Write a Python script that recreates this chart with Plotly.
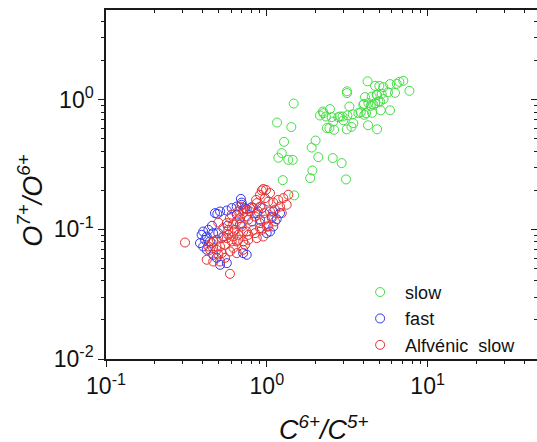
import plotly.graph_objects as go

# ratios (C6+/C5+ , O7+/O6+)
slow_c = [4.23, 4.71, 5.01, 5.30, 5.84, 6.43, 6.67, 7.06, 7.70, 6.27, 5.67, 5.32, 4.85,
          5.18, 5.06, 4.71, 4.94, 5.84, 5.11, 4.51, 4.08, 3.98, 4.28, 4.43, 3.84, 4.14,
          3.15, 3.15, 3.26, 3.42, 3.17, 3.45, 3.36, 3.14, 2.99, 2.96, 2.78, 2.62, 2.59,
          2.53, 2.47, 2.33, 2.25, 2.14, 2.36, 4.26, 4.85, 1.47, 1.157, 1.42, 2.01, 1.90,
          1.28, 1.238, 1.179, 1.36, 1.45, 2.09, 2.57, 2.92, 1.92, 1.86, 3.11, 1.256, 1.48,
          2.85, 4.49, 2.23, 4.02, 3.71, 4.04, 2.45, 4.82, 4.60]
slow_o = [1.389, 1.282, 1.28, 1.253, 1.322, 1.329, 1.377, 1.401, 1.173, 1.132, 1.142, 1.012,
          1.087, 1.112, 0.970, 0.943, 0.970, 0.830, 0.830, 0.794, 1.049, 0.915, 0.943, 0.899,
          0.801, 0.789, 1.163, 1.126, 0.888, 0.773, 0.759, 0.661, 0.619, 0.592, 0.695, 0.743,
          0.735, 0.587, 0.680, 0.735, 0.848, 0.743, 0.789, 0.757, 0.605, 0.636, 0.592, 0.936,
          0.668, 0.616, 0.485, 0.428, 0.474, 0.388, 0.357, 0.344, 0.344, 0.361, 0.355, 0.325,
          0.285, 0.249, 0.243, 0.240, 0.183, 0.743, 1.06, 0.812, 0.931, 0.789, 0.766, 0.605,
          1.093, 0.915]

fast_c = [0.476, 0.512, 0.564, 0.605, 0.650, 0.698, 0.750, 0.806, 0.866, 0.930, 1.073, 1.152,
          1.208, 1.097, 1.097, 1.047, 0.998, 0.402, 0.393, 0.413, 0.384, 0.402, 0.443, 0.423,
          0.536, 0.499, 0.423, 0.492, 0.698, 0.732, 0.713, 0.750, 0.512, 0.564, 0.464, 0.69,
          0.464, 0.488, 0.650, 0.81, 0.907, 0.681, 0.57, 0.456, 0.433]
fast_o = [0.1335, 0.1374, 0.1398, 0.146, 0.150, 0.161, 0.1434, 0.1486, 0.1335, 0.146, 0.1257,
          0.1201, 0.1335, 0.1374, 0.1053, 0.0963, 0.0936, 0.0963, 0.0908, 0.0831, 0.0784,
          0.0738, 0.0807, 0.0881, 0.0881, 0.0936, 0.0696, 0.1319, 0.155, 0.146, 0.0656,
          0.0637, 0.0533, 0.0549, 0.0936, 0.172, 0.0637, 0.0604, 0.130, 0.115, 0.119, 0.109,
          0.107, 0.1066, 0.0993]

alf_c = [0.310, 0.590, 0.423, 0.464, 0.512, 0.443, 0.488, 0.525, 0.464, 0.499, 0.525, 0.576,
         0.618, 0.550, 0.605, 0.664, 0.590, 0.650, 0.713, 0.605, 0.664, 0.713, 0.786, 0.681,
         0.866, 0.907, 0.564, 0.618, 0.698, 0.767, 0.845, 0.750, 0.823, 0.907, 0.998, 0.767,
         0.845, 0.930, 0.988, 1.047, 0.907, 0.974, 0.857, 1.022, 1.097, 1.178, 1.266, 1.360,
         0.950, 1.208, 1.125, 1.047, 0.960, 0.885, 0.823, 0.786, 0.750, 0.713, 0.681, 0.650,
         0.590, 0.536, 0.576, 0.634, 0.698, 0.907, 0.974, 1.073, 1.125, 1.022, 0.930, 0.767,
         0.713, 0.664, 0.618, 0.564, 0.488, 0.454, 0.433, 0.464, 0.512, 0.650, 0.713, 0.866,
         0.950, 1.238, 1.329, 0.732, 0.55, 0.62, 0.50]
alf_o = [0.0792, 0.0454, 0.0583, 0.0565, 0.0565, 0.0696, 0.0696, 0.0656, 0.0807, 0.113,
         0.0857, 0.0908, 0.0963, 0.0761, 0.0807, 0.0831, 0.0676, 0.0656, 0.0696, 0.130,
         0.1374, 0.142, 0.146, 0.150, 0.1596, 0.150, 0.1118, 0.109, 0.1118, 0.119, 0.1257,
         0.0963, 0.0993, 0.1023, 0.1053, 0.0831, 0.0936, 0.1996, 0.202, 0.1906, 0.185,
         0.1744, 0.169, 0.164, 0.161, 0.169, 0.1744, 0.185, 0.205, 0.150, 0.142, 0.1374,
         0.1335, 0.1374, 0.146, 0.1374, 0.1257, 0.1335, 0.1222, 0.1151, 0.1222, 0.1023,
         0.0993, 0.0993, 0.1053, 0.1118, 0.119, 0.1222, 0.1151, 0.1053, 0.0993, 0.0908,
         0.0963, 0.0908, 0.0881, 0.0857, 0.0831, 0.0784, 0.0738, 0.0717, 0.0738, 0.0807,
         0.0807, 0.0857, 0.0881, 0.1335, 0.155, 0.0761, 0.0604, 0.072, 0.064]

x_major = [0.1, 1, 10]
x_major_text = ["10<sup>-1</sup>", "10<sup>0</sup>", "10<sup>1</sup>"]
x_minor = [0.2, 0.3, 0.4, 0.5, 0.6, 0.7, 0.8, 0.9, 2, 3, 4, 5, 6, 7, 8, 9, 20, 30, 40]
y_major = [0.01, 0.1, 1]
y_major_text = ["10<sup>-2</sup>", "10<sup>-1</sup>", "10<sup>0</sup>"]
y_minor = [0.02, 0.03, 0.04, 0.05, 0.06, 0.07, 0.08, 0.09,
           0.2, 0.3, 0.4, 0.5, 0.6, 0.7, 0.8, 0.9, 2, 3, 4]

FONT = "Arial, Liberation Sans, sans-serif"
AX = "#1a1a1a"
X_RANGE = [-1, 1.68]
Y_RANGE = [-2, 0.693]


def circles(x, y, name, color):
    return go.Scatter(
        x=x, y=y, mode="markers", name=name,
        marker=dict(symbol="circle-open", size=9, color=color, line=dict(width=1)),
    )


def log_axis(rng, major, major_text, minor, side_ticks, labels=True, line=True):
    return dict(
        type="log", range=rng, showgrid=False, zeroline=False, automargin=False,
        showline=line, linecolor=AX, linewidth=1.5,
        ticks=side_ticks, ticklen=6, tickwidth=1.2, tickcolor=AX,
        tickmode="array", tickvals=major, ticktext=major_text,
        showticklabels=labels, tickfont=dict(size=23),
        minor=dict(tickmode="array", tickvals=minor, ticks=side_ticks,
                   ticklen=3, tickwidth=1, tickcolor=AX, showgrid=False),
    )


fig = go.Figure()
fig.add_trace(circles(slow_c, slow_o, "slow", "#44dd44"))
fig.add_trace(circles(fast_c, fast_o, "fast", "#3535ee"))
fig.add_trace(circles(alf_c, alf_o, "Alfvénic\u00a0 slow", "#e83030"))
# empty trace so the mirrored (top/right) axes get drawn
fig.add_trace(go.Scatter(x=[], y=[], xaxis="x2", yaxis="y2", showlegend=False))

fig.update_layout(
    width=537, height=442,
    margin=dict(l=106, r=0, t=10, b=83),
    paper_bgcolor="white", plot_bgcolor="white",
    font=dict(family=FONT, color="#111"),
    showlegend=True,
    legend=dict(x=0.578, y=0.244, xanchor="left", yanchor="top",
                font=dict(size=18), itemwidth=40, bgcolor="rgba(0,0,0,0)",
                tracegroupgap=0),
    xaxis=log_axis(X_RANGE, x_major, x_major_text, x_minor, "outside"),
    yaxis=log_axis(Y_RANGE, y_major, y_major_text, y_minor, "outside"),
    xaxis2=dict(log_axis(X_RANGE, x_major, None, x_minor, "inside", labels=False),
                overlaying="x", side="top", anchor="y"),
    # the right frame line sits on the picture's edge, only its inward ticks show
    yaxis2=dict(log_axis(Y_RANGE, y_major, None, y_minor, "inside", labels=False, line=False),
                overlaying="y", side="right", anchor="x"),
    annotations=[
        dict(text="<i>C<sup>6+</sup>/C<sup>5+</sup></i>", xref="paper", yref="paper",
             x=0.505, y=-0.198, xanchor="center", yanchor="middle",
             showarrow=False, font=dict(size=27)),
        dict(text="<i>O<sup>7+</sup>/O<sup>6+</sup></i>", xref="paper", yref="paper",
             x=-0.175, y=0.455, xanchor="center", yanchor="middle", textangle=-90,
             showarrow=False, font=dict(size=27)),
    ],
)

# page margin off so the 537x442 figure fills the window exactly
fig.write_html("out.html", config={"displayModeBar": False},
               post_script="document.body.style.margin='0';"
                           "document.body.style.overflow='hidden';")
